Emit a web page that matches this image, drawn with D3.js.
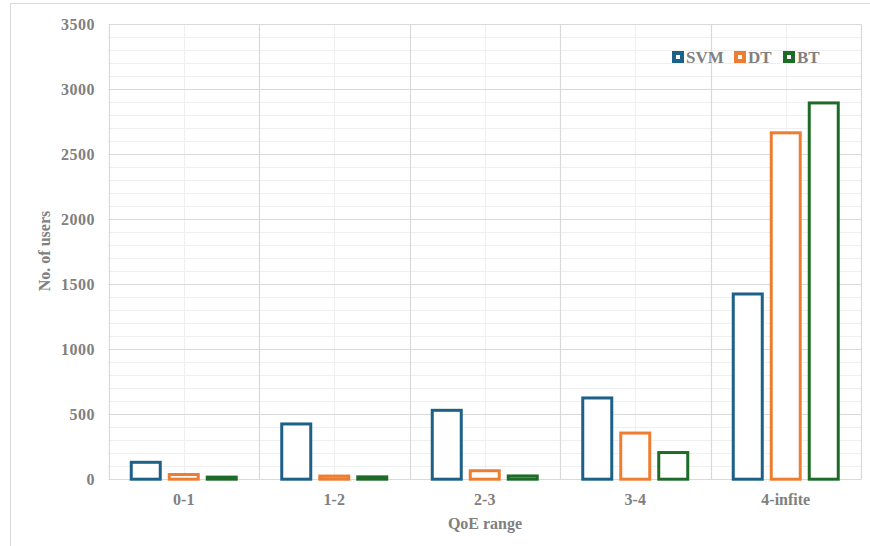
<!DOCTYPE html>
<html><head><meta charset="utf-8">
<script src="https://cdn.jsdelivr.net/npm/d3@7"></script>
<style>body{margin:0;background:#fff}svg{display:block}text{font-family:"Liberation Serif","Times New Roman",serif;font-weight:bold;fill:#808080}</style>
</head><body><svg id="c" width="870" height="546"></svg>
<script>
const categories = ["0-1","1-2","2-3","3-4","4-infite"];
const series = ["SVM","DT","BT"];
const svmValues = [130, 425, 530, 625, 1425];
const dtValues = [36, 24, 65, 355, 2665];
const btValues = [16, 18, 25, 205, 2895];
const yTicks = [0,500,1000,1500,2000,2500,3000,3500];
const colors = ["#1d6088","#ed7d31","#1e6b27"];

const valuesBySeries = [svmValues, dtValues, btValues];
const svg = d3.select("#c");
const L = 108.5, R = 861, T = 24.3, B = 479.2;

svg.append("rect").attr("x",10.5).attr("y",3.5).attr("width",900).attr("height",600)
  .attr("fill","#fff").attr("stroke","#d9d9d9");

const y = d3.scaleLinear().domain([0,3500]).range([B,T]);
const x0 = d3.scaleBand().domain(categories).range([L,R]).padding(0);
const x1 = d3.scaleBand().domain(series).range([-54,54]).paddingInner(6/38).paddingOuter(0);

const g = svg.append("g");
d3.range(0,3501,100).forEach(v=>{
  if (v%500===0) return;
  g.append("line").attr("x1",L).attr("x2",R).attr("y1",Math.round(y(v))+0.5).attr("y2",Math.round(y(v))+0.5)
   .attr("stroke","#efefef").attr("stroke-width",1);
});
categories.forEach(c=>{
  const cx = Math.round(x0(c)+x0.bandwidth()/2)+0.5;
  g.append("line").attr("x1",cx).attr("x2",cx).attr("y1",T).attr("y2",B).attr("stroke","#efefef");
});
yTicks.forEach(v=>{
  g.append("line").attr("x1",L).attr("x2",R).attr("y1",Math.round(y(v))+0.5).attr("y2",Math.round(y(v))+0.5)
   .attr("stroke","#d9d9d9").attr("stroke-width",1.2);
});
categories.concat([null]).forEach((c,i)=>{
  const xx = Math.round(c===null ? R : x0(c))+0.5;
  g.append("line").attr("x1",xx).attr("x2",xx).attr("y1",T).attr("y2",B).attr("stroke","#d9d9d9").attr("stroke-width",1.2);
});

const yAxis = d3.axisLeft(y).tickValues(yTicks).tickFormat(d3.format("d")).tickSize(0).tickPadding(0);
const ya = svg.append("g").attr("transform",`translate(95,0)`).call(yAxis);
ya.select(".domain").remove();
ya.selectAll("text").style("font-size","16px").style("font-family",'"Liberation Serif",serif')
  .style("font-weight","bold").attr("fill","#808080").attr("dy","0.35em").attr("letter-spacing","0.5px");

const xAxis = d3.axisBottom(x0).tickSize(0).tickPadding(0);
const xa = svg.append("g").attr("transform",`translate(0,${B+14})`).call(xAxis);
xa.select(".domain").remove();
xa.selectAll("text").style("font-size","16px").style("font-family",'"Liberation Serif",serif')
  .style("font-weight","bold").attr("fill","#808080").attr("dy","0.71em");

series.forEach((s,si)=>{
  svg.append("g").selectAll("rect").data(categories).join("rect")
    .attr("x",c=>x0(c)+x0.bandwidth()/2+x1(s)+1.5)
    .attr("width",x1.bandwidth()-3)
    .attr("y",(c,i)=>y(valuesBySeries[si][i]))
    .attr("height",(c,i)=>B-y(valuesBySeries[si][i]))
    .attr("fill","#fff").attr("stroke",colors[si]).attr("stroke-width",3);
});

svg.append("text").attr("x",485).attr("y",529).attr("text-anchor","middle").style("font-size","16px").text("QoE range");
svg.append("text").attr("transform","translate(50,251) rotate(-90)").attr("text-anchor","middle").style("font-size","16px").text("No. of users");

const legX = [672,734,783];
series.forEach((s,i)=>{
  svg.append("rect").attr("x",legX[i]+2).attr("y",53).attr("width",8).attr("height",8)
    .attr("fill","#fff").attr("stroke",colors[i]).attr("stroke-width",4);
  svg.append("text").attr("x",legX[i]+14).attr("y",63).style("font-size","17px").text(s);
});
</script></body></html>
